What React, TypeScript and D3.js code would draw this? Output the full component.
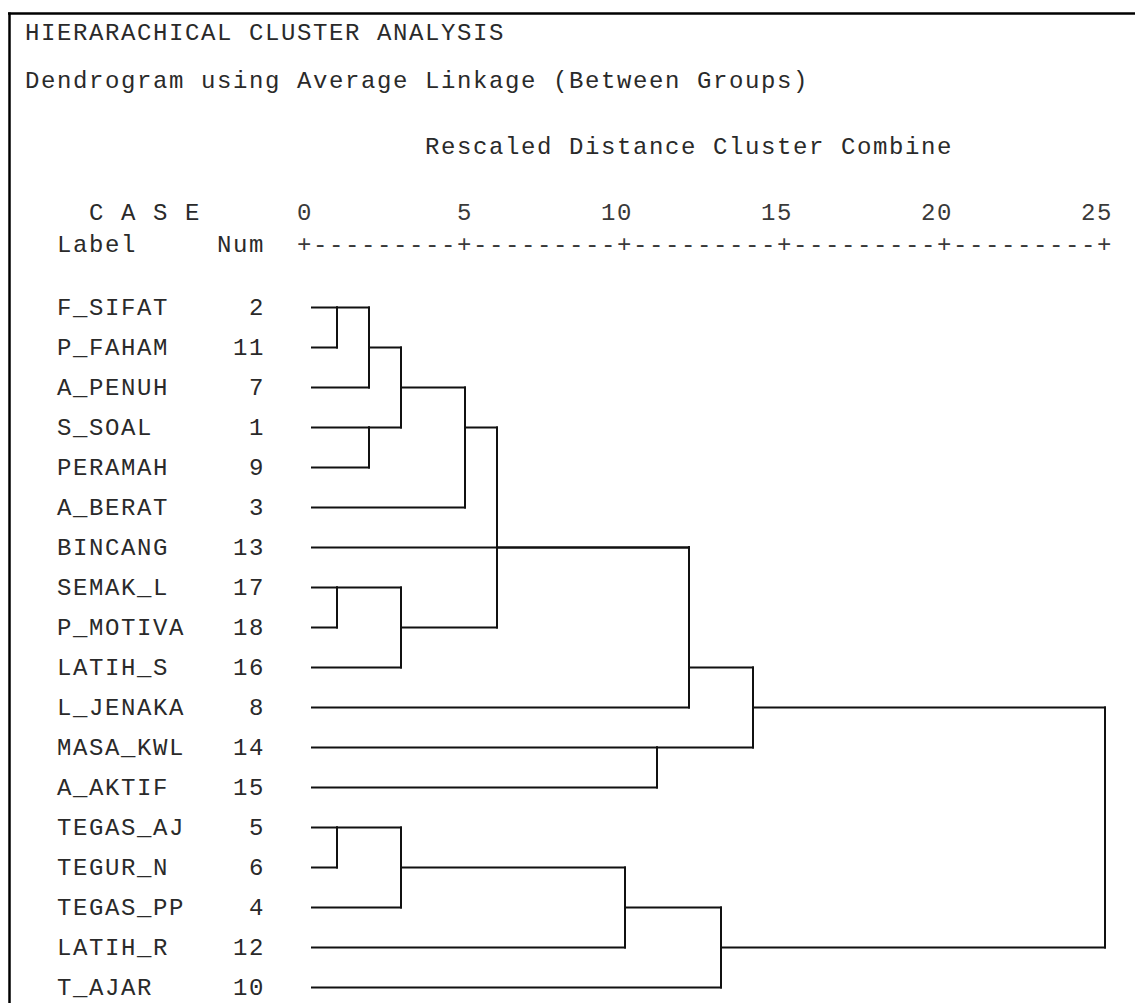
import React, { useEffect, useRef } from 'react';
import * as d3 from 'd3';

// leaf cases, top to bottom
const caseLabels = [
  'F_SIFAT', 'P_FAHAM', 'A_PENUH', 'S_SOAL', 'PERAMAH', 'A_BERAT',
  'BINCANG', 'SEMAK_L', 'P_MOTIVA', 'LATIH_S', 'L_JENAKA', 'MASA_KWL',
  'A_AKTIF', 'TEGAS_AJ', 'TEGUR_N', 'TEGAS_PP', 'LATIH_R', 'T_AJAR',
];
const caseNums = [2, 11, 7, 1, 9, 3, 13, 17, 18, 16, 8, 14, 15, 5, 6, 4, 12, 10];

// merges: node ids 0..17 are leaves, merge k gets id 18 + k
const mergeLeft = [0, 18, 3, 19, 21, 7, 23, 22, 25, 26, 11, 27, 13, 30, 31, 32, 29];
const mergeRight = [1, 2, 4, 20, 5, 8, 9, 24, 6, 10, 12, 28, 14, 15, 16, 17, 33];
// rescaled distance (0-25) at which each merge happens
const mergeDist = [1, 2, 2, 3, 5, 1, 3, 6, 12, 12, 11, 14, 1, 3, 10, 13, 25];
// row on which the merged cluster continues to the right
const mergeRow = [0, 1, 3, 2, 3, 7, 8, 6, 6, 9, 11, 10, 13, 14, 15, 16, 10];

const axisTicks = [0, 5, 10, 15, 20, 25];

const W = 1135;
const H = 1003;
const CH = 16; // monospace cell width
const COL0 = 25;
const FS = 24;
const LS = CH - FS * 0.6;
const FONT = "'Liberation Mono', 'Courier New', monospace";

export default function App() {
  const svgRef = useRef<SVGSVGElement | null>(null);

  useEffect(() => {
    const svg = d3.select(svgRef.current);
    svg.selectAll('*').remove();

    const x = d3.scaleLinear().domain([0, 25]).range([305, 1105]);
    const y = d3.scaleLinear().domain([0, caseLabels.length - 1]).range([307.5, 987.5]);
    const col = (c: number) => COL0 + c * CH;

    // frame (top and left only, the rest is cut)
    svg.append('line').attr('x1', 8).attr('x2', W).attr('y1', 13.5).attr('y2', 13.5)
      .attr('stroke', '#000').attr('stroke-width', 2.5);
    svg.append('line').attr('x1', 9.5).attr('x2', 9.5).attr('y1', 12.5).attr('y2', H)
      .attr('stroke', '#000').attr('stroke-width', 2.5);

    const txt = (s: string, tx: number, ty: number, fill = '#2a2a2a') =>
      svg.append('text')
        .attr('x', tx).attr('y', ty)
        .attr('font-family', FONT)
        .attr('font-size', FS)
        .attr('letter-spacing', LS)
        .attr('fill', fill)
        .style('white-space', 'pre')
        .text(s);

    txt('HIERARACHICAL CLUSTER ANALYSIS', col(0), 40);
    txt('Dendrogram using Average Linkage (Between Groups)', col(0), 88);
    txt('Rescaled Distance Cluster Combine', col(25), 154);
    txt('C A S E', col(4), 220);
    txt('Label', col(2), 252);
    txt('Num', col(12), 252);

    // axis numbers, right digit above the "+"
    axisTicks.forEach(t => {
      const s = String(t);
      txt(s, x(t) + CH / 2 - s.length * CH, 220, '#3a3a3a');
    });

    // axis rule built from the ticks
    let rule = '';
    axisTicks.forEach((t, i) => {
      rule += '+';
      if (i < axisTicks.length - 1) rule += '-'.repeat(Math.round((axisTicks[i + 1] - t) * 2) - 1);
    });
    txt(rule, x(0) - CH / 2, 252, '#3a3a3a');

    // case rows
    caseLabels.forEach((lab, i) => {
      txt(lab, col(2), y(i) + 7.5);
      const n = String(caseNums[i]);
      txt(n, col(15) - n.length * CH, y(i) + 7.5);
    });

    // dendrogram
    const nLeaf = caseLabels.length;
    const nodeX = (id: number) => (id < nLeaf ? x(0) + 7 : x(mergeDist[id - nLeaf]));
    const nodeRow = (id: number) => (id < nLeaf ? id : mergeRow[id - nLeaf]);

    const g = svg.append('g')
      .attr('stroke', '#111')
      .attr('stroke-width', 2)
      .attr('stroke-linecap', 'square')
      .attr('fill', 'none');

    mergeDist.forEach((d, k) => {
      const kids = [mergeLeft[k], mergeRight[k]];
      const xm = x(d);
      kids.forEach(id => {
        g.append('line')
          .attr('x1', nodeX(id)).attr('x2', xm)
          .attr('y1', y(nodeRow(id))).attr('y2', y(nodeRow(id)));
      });
      const rows = kids.map(nodeRow);
      g.append('line')
        .attr('x1', xm).attr('x2', xm)
        .attr('y1', y(d3.min(rows)!)).attr('y2', y(d3.max(rows)!));
    });
  }, []);

  return (
    <div style={{ position: 'absolute', left: 0, top: 0, background: '#fff' }}>
      <svg ref={svgRef} width={W} height={H} style={{ display: 'block' }} />
    </div>
  );
}
